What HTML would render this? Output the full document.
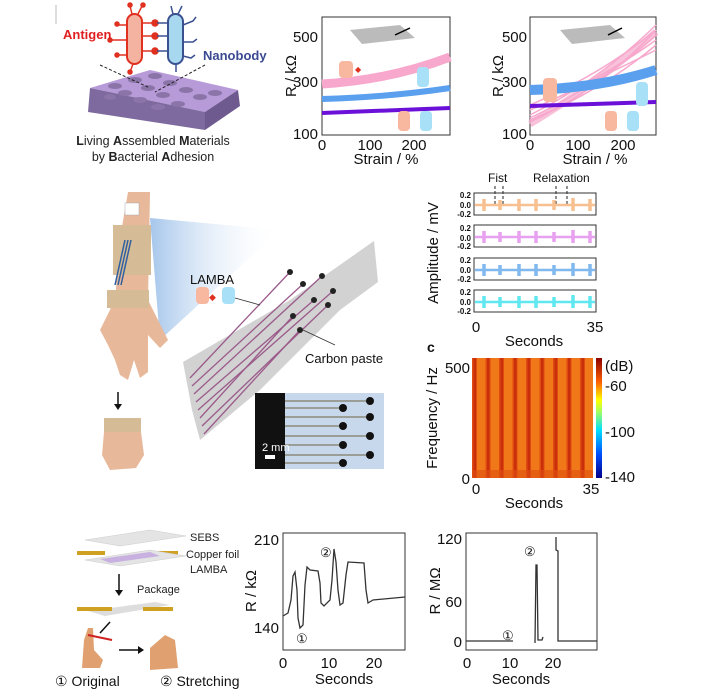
<!DOCTYPE html>
<html><head><meta charset="utf-8"><style>
html,body{margin:0;padding:0;background:#fff;}
svg{display:block;font-family:"Liberation Sans",sans-serif;}
</style></head><body>
<svg width="728" height="691" viewBox="0 0 728 691" xmlns="http://www.w3.org/2000/svg">
<defs>
<linearGradient id="cb" x1="0" y1="1" x2="0" y2="0">
<stop offset="0" stop-color="#00008b"/><stop offset="0.2" stop-color="#0050ff"/><stop offset="0.4" stop-color="#00e0ff"/><stop offset="0.55" stop-color="#a0ff60"/><stop offset="0.65" stop-color="#ffff00"/><stop offset="0.8" stop-color="#ff6000"/><stop offset="1" stop-color="#8b0000"/></linearGradient>
<linearGradient id="cone" x1="0" y1="0" x2="1" y2="0"><stop offset="0" stop-color="#8fb8e6"/><stop offset="1" stop-color="#fff" stop-opacity="0"/></linearGradient>
<pattern id="spec" width="13.5" height="120" patternUnits="userSpaceOnUse" x="472">
<rect width="13.5" height="120" fill="#f07818"/><rect x="0" width="5" height="120" fill="#e04a10"/><rect x="1.5" width="2.5" height="120" fill="#c8300c"/></pattern>
</defs>
<line x1="56" y1="5" x2="56" y2="24" stroke="#bbb"/>
<!-- panel a top-left -->
<g>
<polygon points="90,88 150,70 238,90 205,112 " fill="#b79ad8"/>
<polygon points="90,88 205,112 205,130 88,112" fill="#7e6a9e"/>
<polygon points="205,112 238,90 240,106 205,130" fill="#6e5a8e"/>
<g fill="#8a74a8">
<ellipse cx="115" cy="86" rx="7" ry="3"/><ellipse cx="135" cy="80" rx="7" ry="3"/><ellipse cx="155" cy="76" rx="7" ry="3"/><ellipse cx="125" cy="93" rx="7" ry="3"/><ellipse cx="148" cy="88" rx="7" ry="3"/><ellipse cx="170" cy="83" rx="7" ry="3"/><ellipse cx="140" cy="100" rx="7" ry="3"/><ellipse cx="163" cy="95" rx="7" ry="3"/><ellipse cx="186" cy="90" rx="7" ry="3"/><ellipse cx="178" cy="104" rx="7" ry="3"/><ellipse cx="200" cy="97" rx="7" ry="3"/><ellipse cx="215" cy="93" rx="7" ry="3"/><ellipse cx="158" cy="107" rx="7" ry="3"/><ellipse cx="110" cy="97" rx="6" ry="3"/>
</g>
<line x1="100" y1="65" x2="150" y2="88" stroke="#222" stroke-dasharray="3,2"/>
<line x1="205" y1="65" x2="155" y2="92" stroke="#222" stroke-dasharray="3,2"/>
<rect x="127" y="14" width="15" height="50" rx="7.5" fill="#f4b3a0" stroke="#e03020" stroke-width="2"/>
<rect x="168" y="14" width="15" height="50" rx="7.5" fill="#a8d8f0" stroke="#3a5090" stroke-width="2"/>
<g stroke="#e03020" stroke-width="1.5" fill="#e03020">
<line x1="127" y1="25" x2="118" y2="25"/><circle cx="117" cy="24" r="2"/>
<line x1="127" y1="40" x2="110" y2="40"/><circle cx="110" cy="40" r="2"/>
<line x1="127" y1="55" x2="118" y2="55"/><circle cx="117" cy="55" r="2"/>
<line x1="132" y1="14" x2="130" y2="6"/><circle cx="130" cy="5" r="2"/>
<line x1="138" y1="14" x2="142" y2="6"/><circle cx="143" cy="5" r="2"/>
<line x1="142" y1="23" x2="155" y2="23"/><circle cx="155" cy="23" r="3"/>
<line x1="142" y1="36" x2="155" y2="36"/><circle cx="155" cy="36" r="3"/>
<line x1="142" y1="51" x2="155" y2="51"/><circle cx="155" cy="51" r="3"/>
<line x1="133" y1="64" x2="130" y2="72"/><circle cx="130" cy="72" r="2"/>
</g>
<g stroke="#3a5090" stroke-width="1.5" fill="none">
<line x1="168" y1="23" x2="157" y2="23"/><line x1="168" y1="36" x2="157" y2="36"/><line x1="168" y1="51" x2="157" y2="51"/>
<path d="M183,25 l10,-4 l3,-4 M183,42 l10,0 l4,-3 M183,56 l8,2 l4,-3 M173,14 l-2,-8 M178,14 l4,-8 M176,64 l0,8"/>
</g>
<text x="63" y="39" fill="#e02020" font-weight="bold" font-size="13">Antigen</text>
<text x="203" y="60" fill="#3a4a90" font-weight="bold" font-size="13">Nanobody</text>
<text x="153" y="145" font-size="12.5" text-anchor="middle" fill="#222"><tspan font-weight="bold">L</tspan>iving <tspan font-weight="bold">A</tspan>ssembled <tspan font-weight="bold">M</tspan>aterials</text>
<text x="153" y="161" font-size="12.5" text-anchor="middle" fill="#222">by <tspan font-weight="bold">B</tspan>acterial <tspan font-weight="bold">A</tspan>dhesion</text>
</g>
<!-- top plot 1 -->
<g font-size="15" fill="#111">
<rect x="322" y="17" width="128" height="118" fill="none" stroke="#333"/>
<path d="M322,84 Q390,80 450,57" stroke="#f7a8cc" stroke-width="9" fill="none"/>
<path d="M322,99 Q390,97 450,88" stroke="#5aa0ee" stroke-width="6" fill="none"/>
<path d="M322,113 L450,108" stroke="#6a10d8" stroke-width="4" fill="none"/>
<polygon points="350,30 400,25 415,38 362,44" fill="#bbb"/><line x1="395" y1="35" x2="410" y2="28" stroke="#000" stroke-width="1.5"/>
<rect x="339" y="61" width="14" height="17" rx="4" fill="#f8b8a0"/><text x="355" y="72" fill="#e03020" font-size="8">◆</text>
<rect x="417" y="67" width="12" height="20" rx="4" fill="#a8e0f8"/>
<rect x="398" y="111" width="12" height="20" rx="4" fill="#f8b8a0"/><rect x="420" y="111" width="12" height="20" rx="4" fill="#a8e0f8"/>
<text x="318" y="42" text-anchor="end">500</text><text x="318" y="87" text-anchor="end">300</text><text x="318" y="139" text-anchor="end">100</text>
<text x="322" y="150" text-anchor="middle">0</text><text x="370" y="150" text-anchor="middle">100</text><text x="414" y="150" text-anchor="middle">200</text>
<text x="386" y="164" text-anchor="middle">Strain / %</text>
<text transform="translate(296,76) rotate(-90)" text-anchor="middle">R / kΩ</text>
</g>
<!-- top plot 2 -->
<g font-size="15" fill="#111">
<rect x="530" y="17" width="126" height="118" fill="none" stroke="#333"/>
<g stroke="#f7a8cc" stroke-width="1.5" fill="none">
<path d="M530,122 Q600,90 656,30"/><path d="M530,118 Q600,85 656,35"/><path d="M530,115 Q600,80 656,25"/><path d="M530,120 Q600,92 656,45"/><path d="M530,110 Q600,80 656,40"/><path d="M535,108 Q600,78 656,50"/><path d="M530,105 Q600,75 656,30"/>
</g>
<path d="M530,124 Q600,82 656,32" stroke="#f7a8cc" stroke-width="7" fill="none" opacity=".7"/>
<path d="M530,90 Q600,88 656,70" stroke="#5aa0ee" stroke-width="10" fill="none"/>
<path d="M530,106 L656,102" stroke="#6a10d8" stroke-width="4" fill="none"/>
<polygon points="560,30 610,25 625,38 572,44" fill="#bbb"/><line x1="608" y1="35" x2="622" y2="28" stroke="#000" stroke-width="1.5"/>
<rect x="543" y="78" width="14" height="24" rx="4" fill="#f8b8a0"/>
<rect x="636" y="82" width="12" height="24" rx="4" fill="#a8e0f8"/>
<rect x="605" y="111" width="12" height="20" rx="4" fill="#f8b8a0"/><rect x="627" y="111" width="12" height="20" rx="4" fill="#a8e0f8"/>
<text x="527" y="42" text-anchor="end">500</text><text x="527" y="87" text-anchor="end">300</text><text x="527" y="139" text-anchor="end">100</text>
<text x="530" y="150" text-anchor="middle">0</text><text x="578" y="150" text-anchor="middle">100</text><text x="623" y="150" text-anchor="middle">200</text>
<text x="595" y="164" text-anchor="middle">Strain / %</text>
<text transform="translate(503,76) rotate(-90)" text-anchor="middle">R / kΩ</text>
</g>
<!-- arm section -->
<polygon points="150,218 280,230 160,340" fill="url(#cone)" opacity=".8"/>
<path d="M128,192 L150,192 L148,300 L158,320 L168,340 L160,348 L148,335 L148,372 L140,378 L134,360 L128,380 L120,375 L115,360 L108,345 L100,330 L110,310 L116,290 L118,250 Z" fill="#e8b89a"/>
<rect x="113" y="225" width="38" height="50" fill="#d6bc96"/>
<rect x="107" y="290" width="42" height="18" fill="#d6bc96"/>
<path d="M125,240 L115,285 M128,240 L118,285 M131,240 L121,285" stroke="#3060a0" stroke-width="1.5"/>
<rect x="125" y="203" width="14" height="12" fill="#fff" stroke="#aaa" stroke-width=".5"/>
<line x1="118" y1="392" x2="118" y2="406" stroke="#111" stroke-width="1.5"/><polygon points="114,404 122,404 118,410" fill="#111"/>
<rect x="104" y="418" width="37" height="14" fill="#d6bc96"/>
<path d="M104,432 L141,432 L144,455 L136,468 L110,470 L102,455 Z" fill="#e8b89a"/>
<polygon points="183,362 290,300 374,241 378,282 340,310 260,390 200,440 192,410" fill="#d2d2d2"/>
<g stroke="#9a5a8a" stroke-width="1.3" fill="none">
<path d="M190,378 L290,272"/><path d="M192,386 L303,284"/><path d="M194,394 L322,276"/><path d="M196,402 L314,300"/><path d="M198,410 L333,291"/><path d="M200,418 L293,316"/><path d="M202,426 L328,305"/><path d="M204,434 L300,330"/>
</g>
<g fill="#222"><circle cx="290" cy="272" r="3"/><circle cx="303" cy="284" r="3"/><circle cx="322" cy="276" r="3"/><circle cx="314" cy="300" r="3"/><circle cx="333" cy="291" r="3"/><circle cx="293" cy="316" r="3"/><circle cx="328" cy="305" r="3"/><circle cx="300" cy="330" r="3"/></g>
<text x="190" y="284" font-size="13" fill="#111">LAMBA</text>
<rect x="196" y="287" width="13" height="17" rx="4" fill="#f8b8a0"/><rect x="222" y="287" width="13" height="17" rx="4" fill="#a8e0f8"/>
<text x="209" y="300" font-size="9" fill="#e03020">◆</text>
<line x1="235" y1="298" x2="260" y2="305" stroke="#333" stroke-width=".8"/>
<line x1="303" y1="330" x2="335" y2="345" stroke="#333" stroke-width=".8"/>
<text x="305" y="363" font-size="13" fill="#111">Carbon paste</text>
<rect x="255" y="393" width="129" height="76" fill="#c8d8ec"/>
<rect x="255" y="393" width="30" height="76" fill="#111"/>
<g stroke="#8a8a7a" stroke-width="1.5">
<line x1="285" y1="401" x2="370" y2="401"/><line x1="285" y1="408" x2="342" y2="408"/><line x1="285" y1="417" x2="370" y2="417"/><line x1="285" y1="426" x2="342" y2="426"/><line x1="285" y1="436" x2="370" y2="436"/><line x1="285" y1="445" x2="342" y2="445"/><line x1="285" y1="455" x2="370" y2="455"/><line x1="285" y1="463" x2="342" y2="463"/>
</g>
<g fill="#111"><circle cx="370" cy="401" r="4"/><circle cx="343" cy="408" r="4"/><circle cx="370" cy="417" r="4"/><circle cx="343" cy="426" r="4"/><circle cx="370" cy="436" r="4"/><circle cx="343" cy="445" r="4"/><circle cx="370" cy="455" r="4"/><circle cx="343" cy="463" r="4"/></g>
<text x="262" y="451" font-size="11" fill="#fff">2 mm</text><rect x="265" y="455" width="10" height="4" fill="#fff"/>
<!-- EMG -->
<g font-size="8" font-weight="bold" fill="#111" text-anchor="end">
<text x="488" y="182" font-size="12" font-weight="normal" text-anchor="start">Fist</text>
<text x="533" y="182" font-size="12" font-weight="normal" text-anchor="start">Relaxation</text>
<g stroke="#222" stroke-dasharray="3,2"><line x1="495" y1="186" x2="495" y2="205"/><line x1="503" y1="186" x2="503" y2="205"/><line x1="556" y1="186" x2="556" y2="205"/><line x1="567" y1="186" x2="567" y2="205"/></g>
<g id="r1"><rect x="474" y="193" width="122" height="22" fill="none" stroke="#333"/></g>
<rect x="474" y="225" width="122" height="22" fill="none" stroke="#333"/>
<rect x="474" y="258" width="122" height="22" fill="none" stroke="#333"/>
<rect x="474" y="290" width="122" height="22" fill="none" stroke="#333"/>
<g stroke-width="2.5"><line x1="475" y1="205" x2="595" y2="205" stroke="#f8c090"/><line x1="475" y1="237" x2="595" y2="237" stroke="#e8a0f0"/><line x1="475" y1="270" x2="595" y2="270" stroke="#80b8f0"/><line x1="475" y1="302" x2="595" y2="302" stroke="#60e8f0"/></g>
<g stroke-width="3.5">
<path d="M484,199v12 M500,200v10 M519,199v12 M536,199v12 M554,200v10 M573,198v13 M590,199v12" stroke="#f8c090"/>
<path d="M484,231v12 M500,232v10 M519,231v12 M536,231v12 M554,232v10 M573,230v13 M590,231v12" stroke="#e8a0f0"/>
<path d="M484,264v12 M500,265v10 M519,264v12 M536,264v12 M554,265v10 M573,263v13 M590,264v12" stroke="#80b8f0"/>
<path d="M484,296v12 M500,297v10 M519,296v12 M536,296v12 M554,297v10 M573,295v13 M590,296v12" stroke="#60e8f0"/>
</g>
<text x="471" y="198">0.2</text><text x="471" y="208">0.0</text><text x="471" y="217">-0.2</text>
<text x="471" y="231">0.2</text><text x="471" y="241">0.0</text><text x="471" y="249">-0.2</text>
<text x="471" y="263">0.2</text><text x="471" y="273">0.0</text><text x="471" y="282">-0.2</text>
<text x="471" y="295">0.2</text><text x="471" y="305">0.0</text><text x="471" y="314">-0.2</text>
</g>
<g font-size="15" fill="#111">
<text transform="translate(438,253) rotate(-90)" text-anchor="middle">Amplitude / mV</text>
<text x="476" y="332" text-anchor="middle">0</text><text x="595" y="332" text-anchor="middle">35</text>
<text x="534" y="346" text-anchor="middle">Seconds</text>
<text x="427" y="352" font-weight="bold" font-size="14">c</text>
<rect x="472" y="358" width="121" height="120" fill="url(#spec)"/>
<rect x="472" y="470" width="121" height="8" fill="#e05010" opacity=".6"/>
<rect x="596" y="358" width="6" height="120" fill="url(#cb)"/>
<text x="605" y="371">(dB)</text><text x="605" y="391">-60</text><text x="605" y="437">-100</text><text x="605" y="482">-140</text>
<text x="470" y="373" text-anchor="end">500</text><text x="470" y="484" text-anchor="end">0</text>
<text transform="translate(437,418) rotate(-90)" text-anchor="middle">Frequency / Hz</text>
<text x="476" y="494" text-anchor="middle">0</text><text x="591" y="494" text-anchor="middle">35</text>
<text x="534" y="508" text-anchor="middle">Seconds</text>
</g>
<!-- bottom left -->
<g font-size="11" fill="#222">
<polygon points="85,540 150,530 186,536 120,546" fill="#e4e4e4" stroke="#ccc" stroke-width=".5"/>
<rect x="77" y="551" width="28" height="4" fill="#d0a020"/><rect x="148" y="551" width="30" height="4" fill="#d0a020"/>
<polygon points="85,560 150,550 186,556 120,566" fill="#e4e4e4" stroke="#ccc" stroke-width=".5"/>
<polygon points="100,559 150,552 160,556 110,563" fill="#c8b0e0"/>
<text x="190" y="541">SEBS</text><text x="186" y="558">Copper foil</text><text x="190" y="573">LAMBA</text>
<line x1="119" y1="574" x2="119" y2="592" stroke="#111" stroke-width="1.5"/><polygon points="115,590 123,590 119,596" fill="#111"/>
<text x="137" y="593">Package</text>
<polygon points="88,611 155,602 170,605 105,616" fill="#ddd"/>
<rect x="77" y="607" width="35" height="4" fill="#d0a020"/><rect x="143" y="607" width="30" height="4" fill="#d0a020"/>
<line x1="110" y1="622" x2="100" y2="633" stroke="#111" stroke-width="1.5"/>
<path d="M82,668 L84,640 L88,628 L93,628 L94,650 L103,660 L100,668 Z" fill="#e0a070"/>
<path d="M88,635 L112,640" stroke="#d02020" stroke-width="2"/>
<line x1="119" y1="650" x2="140" y2="650" stroke="#111" stroke-width="1.5"/><polygon points="138,646 138,654 144,650" fill="#111"/>
<path d="M150,670 L150,648 L165,635 L175,640 L178,668 Z" fill="#e0a070"/>
</g>
<g font-size="14" fill="#111">
<text x="55" y="686">① Original</text><text x="160" y="686">② Stretching</text>
</g>
<!-- bottom plot 1 -->
<g font-size="15" fill="#111">
<rect x="283" y="533" width="122" height="117" fill="none" stroke="#333"/>
<path d="M283,616 L288,613 L291,600 L293,576 L295,572 L297,590 L298,618 L300,628 L303,625 L305,585 L307,567 L310,570 L318,571 L320,583 L321,603 L324,606 L330,600 L332,580 L334,549 L336,562 L338,590 L340,605 L343,603 L346,575 L348,562 L364,563 L366,590 L368,603 L373,600 L405,597" fill="none" stroke="#333" stroke-width="1.3"/>
<text x="279" y="545" text-anchor="end">210</text><text x="279" y="633" text-anchor="end">140</text>
<text x="283" y="668" text-anchor="middle">0</text><text x="329" y="668" text-anchor="middle">10</text><text x="374" y="668" text-anchor="middle">20</text>
<text x="344" y="684" text-anchor="middle">Seconds</text>
<text transform="translate(256,591) rotate(-90)" text-anchor="middle">R / kΩ</text>
<text x="320" y="557" font-size="13">②</text><text x="296" y="643" font-size="13">①</text>
</g>
<!-- bottom plot 2 -->
<g font-size="15" fill="#111">
<rect x="466" y="533" width="131" height="117" fill="none" stroke="#333"/>
<path d="M466,641 L513,641 M535,643 L536,565 L537,565 L538,640 L542,640 L543,637 M556,537 L556,550 L558,551 L558,641 L597,641" fill="none" stroke="#333" stroke-width="1.3"/>
<text x="462" y="544" text-anchor="end">120</text><text x="462" y="607" text-anchor="end">60</text><text x="462" y="647" text-anchor="end">0</text>
<text x="467" y="668" text-anchor="middle">0</text><text x="510" y="668" text-anchor="middle">10</text><text x="553" y="668" text-anchor="middle">20</text>
<text x="521" y="684" text-anchor="middle">Seconds</text>
<text transform="translate(440,591) rotate(-90)" text-anchor="middle">R / MΩ</text>
<text x="524" y="556" font-size="13">②</text><text x="502" y="640" font-size="13">①</text>
</g>
</svg>
</body></html>
